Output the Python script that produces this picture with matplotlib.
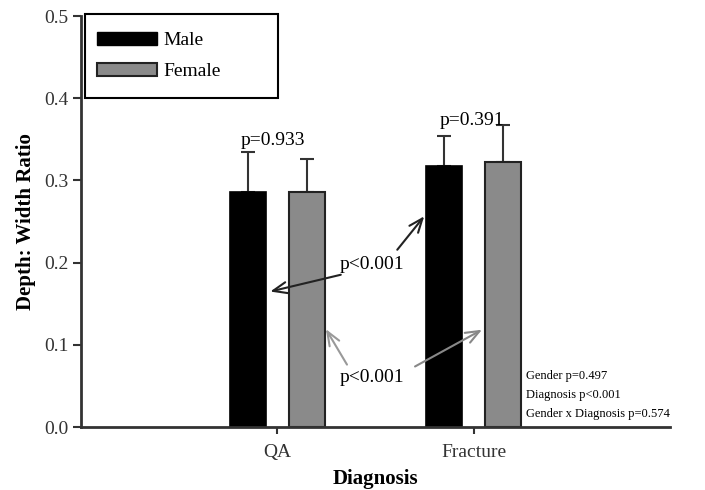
import matplotlib.pyplot as plt
import numpy as np
from matplotlib.patches import Patch, Rectangle

plt.rcParams['font.family'] = ['Liberation Serif', 'DejaVu Serif']

categories = ['QA', 'Fracture']
male_means = [0.286, 0.317]
male_err = [0.049, 0.037]
female_means = [0.286, 0.322]
female_err = [0.040, 0.045]
stats_lines = ['Gender p=0.497', 'Diagnosis p<0.001', 'Gender x Diagnosis p=0.574']

x = np.arange(len(categories))
w = 0.185
off = 0.15

W, H = 705, 490
fig = plt.figure(figsize=(W / 100, H / 100), dpi=100)
ax = fig.add_axes([81 / W, 1 - 427 / H, 589 / W, 411 / H])

ax.bar(x - off, male_means, w, color='black', edgecolor='black', linewidth=1.2, zorder=2)
ax.bar(x + off, female_means, w, color='#8a8a8a', edgecolor='#222222', linewidth=1.5, zorder=2)
ax.errorbar(x - off, male_means, yerr=[[0, 0], male_err], fmt='none', ecolor='#333333',
            elinewidth=1.5, capsize=5, capthick=1.5, zorder=1)
ax.errorbar(x + off, female_means, yerr=[[0, 0], female_err], fmt='none', ecolor='#333333',
            elinewidth=1.5, capsize=5, capthick=1.5, zorder=1)

ax.set_xlim(-1, 2)
ax.set_ylim(0, 0.5)
ax.set_yticks([0.0, 0.1, 0.2, 0.3, 0.4, 0.5])
ax.set_yticklabels(['0.0', '0.1', '0.2', '0.3', '0.4', '0.5'])
ax.set_xticks(x)
ax.set_xticklabels(categories)
ax.tick_params(labelsize=14, colors='#333333', width=1.5, length=5)
ax.tick_params(axis='x', pad=7)
ax.tick_params(axis='y', length=6, pad=3)
for s in ['top', 'right']:
    ax.spines[s].set_visible(False)
for s in ['left', 'bottom']:
    ax.spines[s].set_linewidth(2)
    ax.spines[s].set_color('#333333')

ax.set_xlabel('Diagnosis', fontsize=15, fontweight='bold', labelpad=6)
ax.set_ylabel('Depth: Width Ratio', fontsize=15, fontweight='bold', labelpad=6)

# p-values between genders
ax.text(-0.025, 0.349, 'p=0.933', fontsize=14, ha='center', va='center')
ax.text(0.99, 0.373, 'p=0.391', fontsize=14, ha='center', va='center')

# male comparison arrows
ax.text(0.48, 0.198, 'p<0.001', fontsize=14, ha='center', va='center')
ax.annotate('', xy=(-0.05, 0.164), xytext=(0.337, 0.186),
            arrowprops=dict(arrowstyle='->,head_length=1.0,head_width=0.4', color='#222222', lw=1.5))
ax.annotate('', xy=(0.757, 0.259), xytext=(0.602, 0.213),
            arrowprops=dict(arrowstyle='->,head_length=1.0,head_width=0.4', color='#222222', lw=1.5))

# female comparison arrows
ax.text(0.48, 0.060, 'p<0.001', fontsize=14, ha='center', va='center')
ax.annotate('', xy=(0.24, 0.122), xytext=(0.362, 0.073),
            arrowprops=dict(arrowstyle='->,head_length=1.0,head_width=0.4', color='#999999', lw=1.5))
ax.annotate('', xy=(1.055, 0.120), xytext=(0.689, 0.072),
            arrowprops=dict(arrowstyle='->,head_length=1.0,head_width=0.4', color='#888888', lw=1.5),
            zorder=3)

for i, line in enumerate(stats_lines):
    ax.text(1.265, 0.062 - i * 0.023, line, fontsize=9, ha='left', va='center')

handles = [Patch(facecolor='black', edgecolor='black'),
           Patch(facecolor='#8a8a8a', edgecolor='#222222', linewidth=1.5)]
leg = fig.legend(handles, ['Male', 'Female'], loc='upper left', bbox_to_anchor=(97 / W, 1 - 32 / H),
                 fontsize=14, handlelength=3.1, handleheight=0.67, handletextpad=0.3,
                 labelspacing=0.7, borderpad=0, borderaxespad=0, frameon=False)
fig.patches.append(Rectangle((85 / W, 1 - 98 / H), 193 / W, 84 / H, transform=fig.transFigure,
                             fill=False, edgecolor='black', linewidth=1.5))

fig.savefig('out.png', dpi=100)
